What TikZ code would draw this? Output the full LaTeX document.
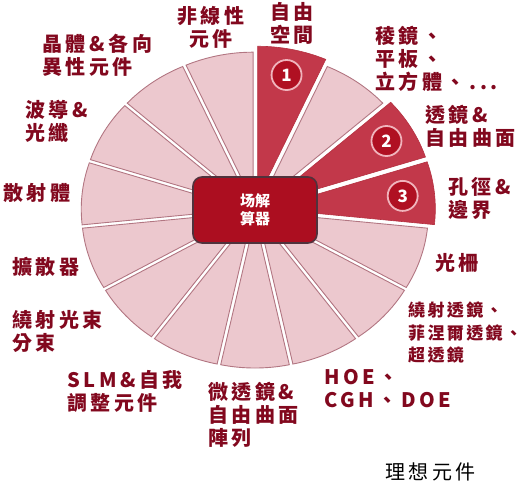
\documentclass[tikz,border=0pt]{standalone}
\usepackage{fontspec}
\newfontfamily\tcfont{Noto Sans CJK TC}[LetterSpace=18]
\newfontfamily\tcsmall{Noto Sans CJK TC}[LetterSpace=14]
\newfontfamily\tcplain{Noto Sans CJK TC}
\definecolor{lightfill}{RGB}{236,200,206}
\definecolor{lightline}{RGB}{178,118,130}
\definecolor{hifill}{RGB}{194,56,74}
\definecolor{hiline}{RGB}{180,48,64}
\definecolor{circfill}{RGB}{176,16,34}
\definecolor{ringpink}{RGB}{240,180,188}
\definecolor{boxfill}{RGB}{172,14,32}
\definecolor{boxline}{RGB}{80,50,60}
\definecolor{labelred}{RGB}{130,8,30}
\begin{document}
\begin{tikzpicture}[x=1pt,y=-1pt,
  lbl/.style={inner sep=0pt, text=labelred, font=\tcfont\bfseries\fontsize{20}{23}\selectfont, align=left, anchor=west},
  lblsmall/.style={lbl, font=\tcsmall\bfseries\fontsize{17}{22.5}\selectfont},
  lightwedge/.style={fill=lightfill, draw=lightline, line width=0.9pt},
  hiwedge/.style={fill=hifill, draw=hiline, line width=0.6pt},
  numcirc/.style={circle, fill=circfill, draw=ringpink, line width=1.8pt, minimum size=30pt, inner sep=0pt, text=white, font=\tcplain\bfseries\fontsize{17}{17}\selectfont},
  solverbox/.style={rectangle, rounded corners=9pt, fill=boxfill, draw=boxline, line width=1.6pt, minimum width=124pt, minimum height=66pt, text=white, align=center, font=\tcplain\bfseries\fontsize{15}{18}\selectfont}]
\useasboundingbox (0,0) rectangle (530,490);
\begin{scope}[shift={(255,210)}, xscale=1.1, yscale=-1]
  \foreach \i in {1,4,5,6,7,8,9,10,11,12,13,14}{
    \pgfmathsetmacro\a{90-24*\i}
    \pgfmathsetmacro\b{\a-12}
    \pgfmathsetmacro\e{\a-24}
    \draw[lightwedge] (\b:8) -- ++(\a:150) arc[start angle=\a, end angle=\e, radius=150] -- cycle;
  }
  \foreach \i in {0,2,3}{
    \pgfmathsetmacro\a{90-24*\i}
    \pgfmathsetmacro\b{\a-12}
    \pgfmathsetmacro\e{\a-24}
    \draw[hiwedge] (\b:12) -- ++(\a:152) arc[start angle=\a, end angle=\e, radius=152] -- cycle;
  }
  \node[numcirc] (n1) at (78:138) {1};
  \node[numcirc] (n2) at (30:138) {2};
  \node[numcirc] (n3) at (6:135) {3};
\end{scope}
\node[solverbox] (solver) at (255,210) {场解\\算器};
% labels
\node[lbl, anchor=center, align=center] (nonlin) at (211,27) {非線性\\元件};
\node[lbl] (free) at (270,23) {自由\\空間};
\node[lbl] (prism) at (375,58.5) {稜鏡、\\平板、\\立方體、...};
\node[lbl] (lens) at (425,126) {透鏡\&\\自由曲面};
\node[lbl] (aper) at (448,198) {孔徑\&\\邊界};
\node[lbl] (grating) at (435,263) {光柵};
\node[lblsmall] (diffl) at (408,332.5) {繞射透鏡、\\菲涅爾透鏡、\\超透鏡};
\node[lbl] (hoe) at (324,389) {HOE、\\CGH、DOE};
\node[lbl] (micro) at (208,415) {微透鏡\&\\自由曲面\\陣列};
\node[lbl] (slm) at (67,391) {SLM\&自我\\調整元件};
\node[lbl] (beam) at (12,331.5) {繞射光束\\分束};
\node[lbl] (diffuser) at (12,267) {擴散器};
\node[lbl] (scatter) at (3,193) {散射體};
\node[lbl] (wave) at (25,121) {波導\&\\光纖};
\node[lbl] (crystal) at (42,55) {晶體\&各向\\異性元件};
\node[lbl, text=black, font=\tcfont\fontsize{20}{23}\selectfont] (ideal) at (385,472) {理想元件};
\end{tikzpicture}
\end{document}
